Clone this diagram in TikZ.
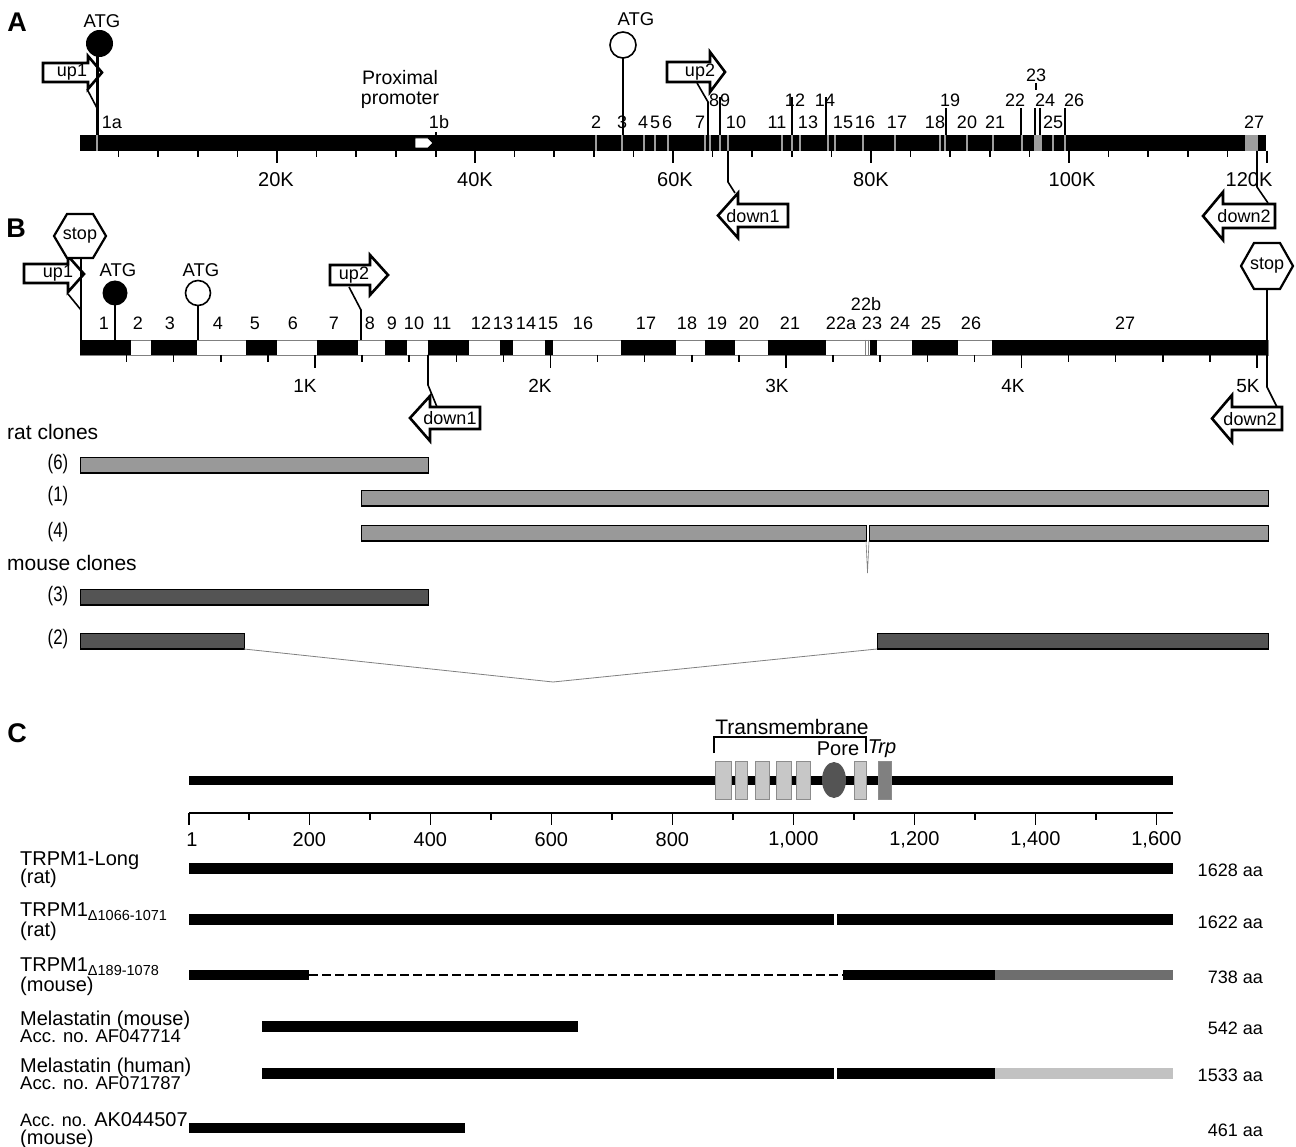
\documentclass[tikz,border=0pt]{standalone}
\usepackage{fontspec}
\setmainfont{Liberation Sans}
\newcommand\myfs[1]{\fontsize{#1}{#1}\selectfont}
\definecolor{stripe}{gray}{0.62}
\definecolor{ratg}{gray}{0.6}
\definecolor{mouseg}{gray}{0.33}
\definecolor{tmg}{gray}{0.78}
\definecolor{tmo}{gray}{0.55}
\definecolor{poreg}{gray}{0.33}
\definecolor{trpg}{gray}{0.5}
\definecolor{darkg}{gray}{0.43}
\definecolor{lightg}{gray}{0.76}
\begin{document}
\begin{tikzpicture}[x=1pt,y=-1pt,
 lab/.style={inner sep=0pt,font=\myfs{18}},
 klab/.style={inner sep=0pt,font=\myfs{20}},
 albl/.style={inner sep=0pt,font=\myfs{18}},
 plab/.style={inner sep=0pt,font=\bfseries\myfs{27}},
 clab/.style={inner sep=0pt,font=\myfs{20},anchor=base west},
 slab/.style={inner sep=0pt,font=\myfs{18.5},anchor=base west},
 alab/.style={inner sep=0pt,font=\myfs{18},anchor=base east},
 nlab/.style={inner sep=0pt,font=\myfs{21}},
 blk/.style={line width=2.6pt,fill=white,draw=black,line join=miter},
 lead/.style={line width=1.6pt},
 tk/.style={line width=1.5pt},
 clonebox/.style={draw=black,line width=0.9pt},
]
\fill[white] (0,0) rectangle (1296,1147);
\useasboundingbox (0,0) rectangle (1296,1147);

\node[plab] (pA) at (17,22) {A};
\node[plab] (pB) at (16,228) {B};
\node[plab] (pC) at (17,733) {C};

%% ---------------- Panel A ----------------
\fill (80,135) rectangle (1266,151);
\foreach \x in {97,596,622,644,655,668,705,710,720,728,782,792,800,828,835,863,895,940,945,967,993,1022,1053,1065}
  \fill[stripe] ({\x-1.3},135) rectangle ({\x+1.3},151);
\fill[stripe] (1034,135) rectangle (1042,151);
\fill[stripe] (1245,135) rectangle (1258,151);
% proximal promoter 1b
\draw[fill=white,line width=0.8pt] (415,138) -- (428,138) -- (433,143) -- (428,148) -- (415,148) -- cycle;
\draw[line width=1.2pt] (436,132) -- (436,157);
\node[inner sep=0pt,font=\myfs{19.5}] (prox1) at (400,78) {Proximal};
\node[inner sep=0pt,font=\myfs{19.5}] (prox2) at (400,100) {promoter};
% ticks
\foreach \k in {4,8,...,120} \draw[tk] ({79+9.9*\k},151) -- ++(0,6);
\foreach \k in {20,40,...,120} \draw[tk] ({79+9.9*\k},151) -- ++(0,12);
\foreach \x/\t [count=\n] in {276/20K,475/40K,675/60K,871/80K,1072/100K,1249/120K}
  \node[klab] (sa\n) at (\x,180) {\t};
% up1
\draw[blk] (43,63) -- (88,63) -- (88,56) -- (102,72.5) -- (88,89) -- (88,82) -- (43,82) -- cycle;
\node[albl] (up1a) at (72,72) {up1};
\draw[lead] (87,89) -- (97,108);
\draw[line width=3pt] (97,50) -- (97,135);
\fill (99.5,43.5) circle[radius=13.5];
\node[lab,font=\myfs{18.5}] (atg1a) at (102,21) {ATG};
% open ATG
\draw[lead] (623,58) -- (623,135);
\draw[line width=1.6pt,fill=white] (623,45) circle[radius=13];
\node[lab,font=\myfs{18.5}] (atg2a) at (636,19) {ATG};
% up2
\draw[blk] (667,62) -- (710,62) -- (710,52) -- (725,72) -- (710,92) -- (710,82) -- (667,82) -- cycle;
\node[albl] (up2a) at (700,72) {up2};
\draw[lead] (697,83) -- (708,102) -- (708,137);
% down1
\draw[lead] (728,151) -- (728,182) -- (735,193);
\draw[blk] (788,204) -- (738,204) -- (738,193) -- (718,215.5) -- (738,238) -- (738,227) -- (788,227) -- cycle;
\node[albl] (dn1a) at (753,216) {down1};
% down2
\draw[lead] (1257,151) -- (1257,187) -- (1268,203);
\draw[blk] (1275,204) -- (1223,204) -- (1223,192) -- (1203,216) -- (1223,240) -- (1223,228) -- (1275,228) -- cycle;
\node[albl] (dn2a) at (1244,216) {down2};
% leader lines
\foreach \x in {720,792,826} \draw[lead] (\x,97) -- (\x,135);
\foreach \x in {946,1021,1035,1040,1065} \draw[lead] (\x,108) -- (\x,135);
\draw[lead] (1036,83) -- (1036,90);
% exon labels
\node[lab] (e1a) at (112,122) {1a};
\node[lab] (e1b) at (439,122) {1b};
\foreach \x/\t [count=\n] in {596/2,622/3,643/4,655/5,667/6,700/7,736/10,777/11,808/13,843/15,865/16,897/17,935/18,967/20,995/21,1053/25,1254/27}
  \node[lab] (ra\n) at (\x,122) {\t};
\foreach \x/\t [count=\n] in {714/8,725/9,795/12,825/14,950/19,1015/22,1045/24,1074/26}
  \node[lab] (rb\n) at (\x,100) {\t};
\node[lab] (e23) at (1036,75) {23};

%% ---------------- Panel B ----------------
\draw[line width=0.8pt,draw=gray,fill=white] (80,340) rectangle (1268,355);
\foreach \a/\b in {80/131,151/197,246/277,317/358,385/407,428/469,500/513,545/553,621/676,705/735,768/826,870/877,912/958,992/1268}
  \fill (\a,340) rectangle (\b,355);
\draw[line width=0.6pt,gray] (865,340) -- (865,355) (868,340) -- (868,355);
\foreach \i in {1,...,25} \draw[tk] ({79.5+47.1*\i},355) -- ++(0,7);
\foreach \i in {5,10,...,25} \draw[tk] ({79.5+47.1*\i},355) -- ++(0,13);
\foreach \x/\t [count=\n] in {305/1K,540/2K,777/3K,1013/4K,1248/5K}
  \node[lab,font=\myfs{19}] (sb\n) at (\x,386) {\t};
\foreach \x/\t [count=\n] in {104/1,138/2,170/3,218/4,255/5,293/6,334/7,370/8,392/9,414/10,442/11,481/12,503/13,526/14,548/15,583/16,646/17,687/18,717/19,749/20,790/21,841/22a,872/23,900/24,931/25,971/26,1125/27}
  \node[lab] (xb\n) at (\x,323) {\t};
\node[lab] (e22b) at (866,304) {22b};
% up1 B
\draw[blk] (24,264) -- (68,264) -- (68,256) -- (84,274) -- (68,292) -- (68,283) -- (24,283) -- cycle;
\node[albl] (up1b) at (58,273) {up1};
\draw[lead] (68,294) -- (81,310);
% stop left
\draw[line width=2.2pt,fill=white] (54,236) -- (67,214) -- (93,214) -- (106,236) -- (93,258) -- (67,258) -- cycle;
\node[albl] (stop1) at (80,236) {stop};
\draw[lead] (81,258) -- (81,340);
% ATG B
\draw[lead] (115,300) -- (115,340);
\fill (115,293) circle[radius=12.5];
\node[lab,font=\myfs{18.5}] (atg1b) at (118,270) {ATG};
\draw[lead] (198,305) -- (198,340);
\draw[line width=1.6pt,fill=white] (198,293) circle[radius=12.5];
\node[lab,font=\myfs{18.5}] (atg2b) at (201,270) {ATG};
% up2 B
\draw[blk] (330,265) -- (370,265) -- (370,255) -- (388,275) -- (370,295) -- (370,285) -- (330,285) -- cycle;
\node[albl] (up2b) at (354,275) {up2};
\draw[lead] (349,287) -- (361,310) -- (361,340);
% down1 B
\draw[lead] (428,355) -- (428,385) -- (437,407);
\draw[blk] (480,407) -- (430,407) -- (430,396) -- (410,418) -- (430,441) -- (430,429) -- (480,429) -- cycle;
\node[albl] (dn1b) at (450,418) {down1};
% stop right + down2 B
\draw[lead] (1267,288) -- (1267,387) -- (1277,407);
\draw[line width=2.2pt,fill=white] (1241,266) -- (1254,243) -- (1280,243) -- (1293,266) -- (1280,289) -- (1254,289) -- cycle;
\node[albl] (stop2) at (1267,266) {stop};
\draw[blk] (1282,407) -- (1232,407) -- (1232,395) -- (1212,418.5) -- (1232,442) -- (1232,430) -- (1282,430) -- cycle;
\node[albl] (dn2b) at (1250,419) {down2};

%% ---------------- clones ----------------
\node[inner sep=0pt,font=\myfs{21},anchor=west] (rat) at (7,432) {rat clones};
\node[inner sep=0pt,font=\myfs{21},anchor=west] (mouse) at (7,563) {mouse clones};
\foreach \y/\t [count=\n] in {464/(6),496/(1),532/(4),596/(3),639/(2)}
  \node[nlab] (cl\n) at (58,\y) {\scalebox{0.8}[1]{\t}};
\foreach \a/\b/\c/\d/\f in {80/457/428/473/ratg,361/490/1268/506/ratg,361/525/866/541/ratg,869/525/1268/541/ratg,80/589/428/605/mouseg,80/633/244/649/mouseg,877/633/1268/649/mouseg}{
  \draw[clonebox,fill=\f] (\a,\b) rectangle (\c,\d);
  \draw[line width=1.8pt] (\a,\d) -- (\c,\d);
}
\draw[gray,line width=0.6pt] (866,541) -- (867.5,573) -- (869,541);
\draw[gray,line width=0.8pt] (244,649) -- (553,682) -- (877,649);

%% ---------------- Panel C ----------------
\fill (189,776) rectangle (1173,785);
\draw[line width=1.6pt] (714,753) -- (714,737) -- (866,737) -- (866,753);
\node[inner sep=0pt,font=\myfs{21}] (tm) at (792,727) {Transmembrane};
\node[inner sep=0pt,font=\myfs{20}] (pore) at (838,749) {Pore};
\node[inner sep=0pt,font=\itshape\myfs{20}] (trp) at (882,749) {Trp};
\foreach \a/\b in {715/731,735/747,755/769,776/791,796/810,854/866}
  \draw[fill=tmg,draw=tmo,line width=0.8pt] (\a,761) rectangle (\b,799);
\fill[poreg] (834,780) ellipse[x radius=12,y radius=18];
\draw[fill=trpg,draw=tmo,line width=0.8pt] (878,761) rectangle (891,799);
% ruler
\draw[line width=1.6pt] (189,813) -- (1173,813);
\foreach \a in {100,200,...,1600} \draw[tk] ({189+0.605*(\a-1)},813) -- ++(0,7);
\foreach \a in {200,400,...,1600} \draw[tk] ({189+0.605*(\a-1)},813) -- ++(0,12);
\draw[tk] (189,813) -- (189,825);
\node[inner sep=0pt,font=\myfs{20}] (t1) at (192,840) {1};
\foreach \a/\t [count=\n] in {200/200,400/400,600/600,800/800,1000/{1,000},1200/{1,200},1400/{1,400},1600/{1,600}}
  \node[inner sep=0pt,font=\myfs{20}] (tc\n) at ({189+0.605*(\a-1)},840) {\t};
% rows
\fill (189,863) rectangle (1173,874);
\node[clab] (r1a) at (20,865) {TRPM1-Long};
\node[clab] (r1b) at (20,883) {(rat)};
\node[alab] (r1c) at (1263,876) {1628 aa};

\fill (189,914) rectangle (1173,925);
\fill[white] (834,913) rectangle (836.5,926);
\node[clab] (r2a) at (20,916) {TRPM1\raisebox{-4pt}{\myfs{14.5}Δ1066-1071}};
\node[clab] (r2b) at (20,936) {(rat)};
\node[alab] (r2c) at (1263,928) {1622 aa};

\fill (189,970) rectangle (309,980);
\draw[line width=2pt,dash pattern=on 9pt off 4pt] (309,975) -- (843,975);
\fill (843,970) rectangle (995,980);
\fill[darkg] (995,970) rectangle (1173,980);
\node[clab] (r3a) at (20,971) {TRPM1\raisebox{-4pt}{\myfs{14.5}Δ189-1078}};
\node[clab] (r3b) at (20,991) {(mouse)};
\node[alab] (r3c) at (1263,983) {738 aa};

\fill (262,1021) rectangle (578,1032);
\node[clab] (r4a) at (20,1025) {Melastatin (mouse)};
\node[slab] (r4b) at (20,1042) {Acc. no. AF047714};
\node[alab] (r4c) at (1263,1034) {542 aa};

\fill (262,1068) rectangle (995,1079);
\fill[white] (834,1067) rectangle (836.5,1080);
\fill[lightg] (995,1068) rectangle (1173,1079);
\node[clab] (r5a) at (20,1072) {Melastatin (human)};
\node[slab] (r5b) at (20,1089) {Acc. no. AF071787};
\node[alab] (r5c) at (1263,1081) {1533 aa};

\fill (189,1123) rectangle (465,1133);
\node[clab] (r6a) at (20,1126) {{\myfs{18}Acc. no.} AK044507};
\node[clab] (r6b) at (20,1144) {(mouse)};
\node[alab] (r6c) at (1263,1136) {461 aa};
\end{tikzpicture}
\end{document}
